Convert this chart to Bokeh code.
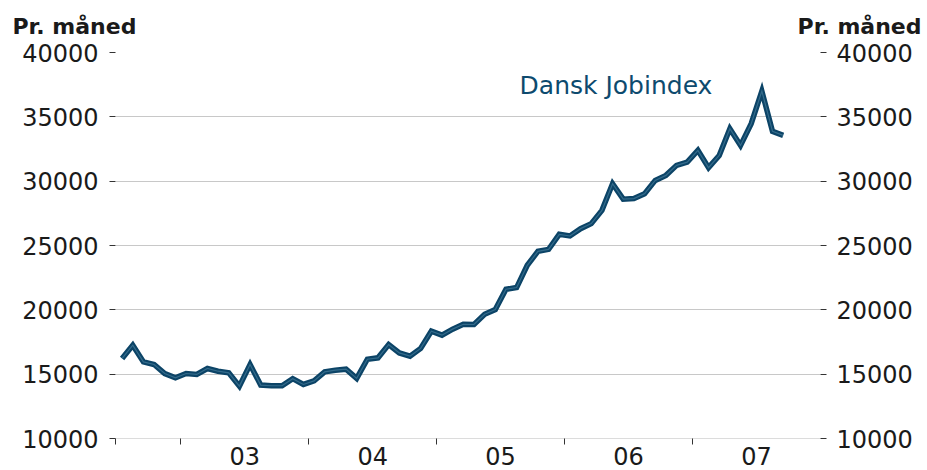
import pandas as pd
from bokeh.plotting import figure
from bokeh.layouts import column
from bokeh.models import Range1d, LinearAxis, FixedTicker, Label, ColumnDataSource
from bokeh.embed import file_html
from bokeh.resources import INLINE

# Monthly job postings, Jul 2002 - Sep 2007
months = pd.date_range("2002-07-01", "2007-09-01", freq="MS")
values = [
    16220, 17250, 15950, 15750, 15050, 14710,                                      # 2002 Jul-Dec
    15050, 14980, 15440, 15230, 15100, 14070, 15750, 14150, 14100, 14100, 14650, 14200,  # 2003
    14480, 15180, 15310, 15390, 14670, 16160, 16270, 17300, 16650, 16400, 17000, 18340,  # 2004
    18030, 18500, 18880, 18860, 19660, 20020, 21600, 21730, 23460, 24550, 24700, 25870,  # 2005
    25740, 26310, 26700, 27730, 29800, 28600, 28650, 29030, 30060, 30450, 31230, 31480,  # 2006
    32390, 31050, 32000, 34080, 32780, 34470, 37000, 33870, 33560,                       # 2007
]
series_name = "Dansk Jobindex"
unit_label = "Pr. måned"
year_ticks = [2003, 2004, 2005, 2006, 2007]
year_labels = ["03", "04", "05", "06", "07"]
y_ticks = [10000, 15000, 20000, 25000, 30000, 35000, 40000]

x_vals = [m.year + (m.month - 0.5) / 12 for m in months]
src = ColumnDataSource(dict(x=x_vals, y=values))

FONT = "DejaVu Sans"
LINE = "#0c4467"
TXT = "#1a1a1a"
W = 927

# ---- header strip with the unit labels above both axes ----
head = figure(width=W, height=40, output_backend="svg", toolbar_location=None,
              x_range=Range1d(0, W), y_range=Range1d(0, 40),
              x_axis_type=None, y_axis_type=None, min_border=0,
              min_border_left=0, min_border_right=0, min_border_top=0,
              min_border_bottom=0)
head.frame_align = False
head.outline_line_color = None
head.xgrid.visible = False
head.ygrid.visible = False
head.add_layout(Label(x=12, y=14, text=unit_label, text_align="left",
                      text_baseline="alphabetic", text_font=FONT, text_font_size="22px",
                      text_font_style="bold", text_color=TXT))
head.add_layout(Label(x=921, y=14, text=unit_label, text_align="right",
                      text_baseline="alphabetic", text_font=FONT, text_font_size="22px",
                      text_font_style="bold", text_color=TXT))

# ---- main chart ----
x_start, x_end = 2002.49, 2008.0
p = figure(width=W, height=430, output_backend="svg", toolbar_location=None,
           x_range=Range1d(x_start, x_end), y_range=Range1d(10000, 40000),
           min_border_left=115, min_border_right=107, min_border_top=12,
           min_border_bottom=32)
p.frame_align = False
p.outline_line_color = None
p.xgrid.visible = False
p.ygrid.grid_line_color = "#c8c8c8"
p.ygrid.grid_line_width = 1
p.ygrid.ticker = FixedTicker(ticks=y_ticks)

# x axis: labels mid-year (no tick), tick marks at year boundaries
xa = p.xaxis[0]
xa.ticker = FixedTicker(ticks=[y + 0.5 for y in year_ticks],
                        minor_ticks=[x_start + 0.002] + year_ticks)
xa.major_label_overrides = {y + 0.5: l for y, l in zip(year_ticks, year_labels)}
xa.major_tick_out = 0
xa.major_tick_in = 0
xa.minor_tick_out = 6
xa.minor_tick_in = 0
xa.minor_tick_line_color = "#333333"
xa.axis_line_color = "#dcdcdc"
xa.major_label_standoff = 2
xa.major_label_text_font = FONT
xa.major_label_text_font_size = "24px"
xa.major_label_text_color = TXT

def style_y(ax):
    ax.ticker = FixedTicker(ticks=y_ticks)
    ax.major_tick_out = 6
    ax.major_tick_in = 0
    ax.minor_tick_out = 0
    ax.minor_tick_in = 0
    ax.major_tick_line_color = "#333333"
    ax.axis_line_color = None
    ax.major_label_standoff = 11
    ax.major_label_text_font = FONT
    ax.major_label_text_font_size = "24px"
    ax.major_label_text_color = TXT

style_y(p.yaxis[0])
ra = LinearAxis()
style_y(ra)
ra.major_label_standoff = 10
p.add_layout(ra, "right")

# line with slightly lighter core
p.line("x", "y", source=src, line_color=LINE, line_width=5.5, line_join="miter")
p.line("x", "y", source=src, line_color="#3f7595", line_width=1.2, line_alpha=0.8,
       line_join="miter")

p.add_layout(Label(x=2005.648, y=37400, text=series_name, text_align="left",
                   text_baseline="alphabetic", text_font=FONT, text_font_size="25px",
                   text_color="#0d4a6e"))

layout = column(head, p, spacing=0)
open("out.html", "w").write(file_html(layout, INLINE))
